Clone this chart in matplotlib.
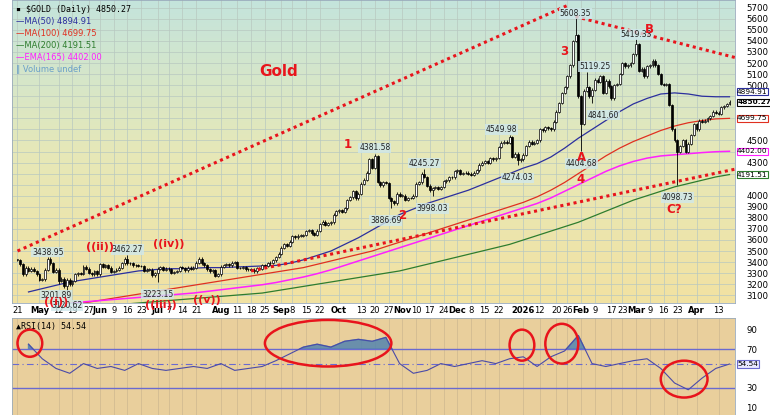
import numpy as np, pandas as pd
import matplotlib
matplotlib.use("Agg")
import matplotlib.pyplot as plt
from matplotlib.patches import Ellipse, Rectangle
from matplotlib.colors import LinearSegmentedColormap

closes = [3420,3380,3290,3350,3320, 3340,3320,3290,3240,3245, 3330,3430,3390,3310,3330,
 3230,3250,3180,3240,3200, 3230,3290,3300,3295,3360, 3340,3300,3290,3320,3290,
 3380,3355,3370,3350,3310, 3320,3330,3350,3390,3430, 3390,3390,3370,3370,3365,
 3365,3320,3330,3330,3280, 3300,3340,3355,3330,3340, 3335,3300,3310,3320,3355,
 3345,3325,3350,3340,3350, 3395,3430,3390,3370,3335, 3315,3325,3275,3290,3360,
 3375,3380,3370,3395,3400, 3345,3345,3355,3335,3335, 3330,3315,3345,3340,3375,
 3365,3390,3395,3415,3445, 3475,3530,3560,3545,3585, 3635,3625,3640,3640,3645,
 3680,3690,3660,3645,3685, 3745,3765,3735,3750,3760, 3830,3860,3870,3855,3885,
 3960,3985,4040,3975,4020, 4110,4145,4210,4330,4250, 4360,4125,4095,4125,4115,
 3980,3950,3930,4020,4000, 4000,3960,3980,3980,4000, 4110,4120,4200,4170,4090,
 4050,4070,4080,4060,4080, 4130,4140,4165,4165,4220, 4230,4200,4205,4210,4200,
 4190,4210,4230,4280,4300, 4310,4300,4340,4330,4340, 4440,4480,4490,4480,4530,
 4350,4380,4320,4330,4370, 4450,4490,4470,4480,4500, 4600,4590,4620,4610,4600,
 4670,4760,4840,4930,4980, 5080,5180,5400,5450,4900, 4650,4950,4980,4900,4960,
 5050,5030,5080,4930,5040, 4990,4880,5000,5010,5100, 5200,5170,5180,5200,5280,
 5370,5130,5150,5080,5170, 5180,5220,5180,5100,5010, 5000,5010,4820,4600,4500,
 4400,4450,4500,4400,4470, 4550,4650,4600,4680,4670, 4680,4700,4720,4760,4750,
 4740,4800,4810,4830,4850.27]

ma50 = [3130,3160,3190,3220,3240,3260,3280,3300,3320,3330,3340,3340,3345,3350,3350,3355,3360,3365,3370,3390,3420,3460,3500,3560,3620,3690,3760,3830,3880,3930,3970,4010,4050,4100,4150,4200,4250,4290,4350,4430,4520,4600,4680,4760,4830,4880,4920,4930,4920,4900,4895,4894.91]
ma100 = [2950,2970,2990,3010,3030,3050,3070,3090,3110,3130,3150,3170,3190,3210,3230,3250,3270,3290,3310,3330,3350,3380,3410,3440,3470,3500,3540,3580,3620,3660,3700,3740,3780,3820,3860,3900,3940,3990,4050,4120,4200,4280,4360,4430,4490,4540,4590,4630,4660,4680,4695,4699.75]
ma200 = [2900,2920,2940,2960,2980,3000,3010,3020,3030,3040,3050,3060,3070,3080,3090,3100,3110,3120,3140,3160,3180,3200,3220,3240,3260,3280,3300,3320,3350,3380,3410,3440,3470,3500,3530,3560,3600,3640,3680,3720,3760,3810,3860,3910,3960,4000,4040,4080,4110,4140,4170,4191.51]
ema165 = [2980,2995,3010,3025,3040,3050,3060,3070,3080,3090,3100,3110,3120,3135,3150,3165,3180,3195,3215,3240,3265,3295,3330,3370,3410,3450,3490,3530,3570,3610,3650,3690,3730,3770,3810,3850,3890,3930,3980,4040,4100,4160,4220,4270,4310,4340,4360,4370,4380,4390,4398,4402.00]
rsi = [75,60,50,45,55,50,52,48,55,50,48,50,52,50,55,48,50,52,58,65,72,75,72,78,80,78,82,55,45,48,55,52,55,58,55,60,62,52,62,68,84,55,52,55,58,60,50,35,28,40,50,54.54]

tick_dates = ["2025-04-21","2025-05-01","2025-05-12","2025-05-19","2025-05-27","2025-06-02","2025-06-09","2025-06-16","2025-06-23","2025-07-01","2025-07-07","2025-07-14","2025-07-21","2025-08-01","2025-08-11","2025-08-18","2025-08-25","2025-09-02","2025-09-08","2025-09-15","2025-09-22","2025-10-01","2025-10-13","2025-10-20","2025-10-27","2025-11-03","2025-11-10","2025-11-17","2025-11-24","2025-12-01","2025-12-08","2025-12-15","2025-12-22","2026-01-02","2026-01-12","2026-01-20","2026-01-26","2026-02-02","2026-02-09","2026-02-17","2026-02-23","2026-03-02","2026-03-09","2026-03-16","2026-03-23","2026-04-01","2026-04-13"]
tick_labels = ["21","May","12","19","27","Jun","9","16","23","Jul","7","14","21","Aug","11","18","25","Sep","8","15","22","Oct","13","20","27","Nov","10","17","24","Dec","8","15","22","2026","12","20","26","Feb","9","17","23","Mar","9","16","23","Apr","13"]

extremes = [("2025-05-06",3438.95,(0,4)),("2025-05-12",3201.89,(-2,-8)),("2025-05-15",3120.62,(0,-9)),
            ("2025-06-16",3462.27,(0,4)),("2025-07-01",3223.15,(0,-9)),("2025-10-20",4381.58,(0,4)),
            ("2025-10-28",3886.69,(-4,-9)),("2025-11-13",4245.27,(0,4)),("2025-11-18",3998.03,(0,-9)),
            ("2025-12-26",4549.98,(-6,4)),("2025-12-31",4274.03,(0,-9)),("2026-01-29",5608.35,(0,3)),
            ("2026-02-04",5119.25,(6,4)),("2026-02-02",4404.68,(0,-9)),("2026-02-06",4841.60,(8,-9)),
            ("2026-03-02",5419.33,(0,3)),("2026-03-23",4098.73,(0,-9))]
waves = [("2025-10-06",4460,"1"),("2025-11-03",3820,"2"),("2026-01-23",5300,"3"),("2026-02-02",4150,"4"),
         ("2026-02-02",4350,"A"),("2026-03-09",5500,"B"),("2026-03-20",3880,"C?"),
         ("2025-06-02",3540,"((ii))"),("2025-07-07",3560,"((iv))"),("2025-05-09",3035,"((i))"),
         ("2025-07-02",3010,"((iii))"),("2025-07-25",3060,"((v))")]

dates = pd.bdate_range("2025-04-21", periods=len(closes))
def di(s): return int(dates.searchsorted(pd.Timestamp(s)))
c = np.array(closes, float)
o = np.r_[c[0], c[:-1]]
hi = np.maximum(o, c) + 12; lo = np.minimum(o, c) - 12
for d, v, _ in extremes:
    i = min(di(d), len(c)-1)
    if v > c[i]: hi[i] = max(hi[i], v)
    else: lo[i] = min(lo[i], v)

W, H = 770, 415
fig = plt.figure(figsize=(W/100, H/100), dpi=100)
fig.patch.set_facecolor("white")
ax = fig.add_axes([12/W, 1-303/H, 723/W, 303/H])
ar = fig.add_axes([12/W, 0, 723/W, 97/H], sharex=ax)
n = len(c)
xl = (-2, n+1)
YL = (3030, 5770)
grad = np.linspace(0, 1, 256)[:, None]
cm = LinearSegmentedColormap.from_list("g", ["#f2e2a2", "#e6e8b8", "#c4e4dc"])
ax.imshow(grad, aspect="auto", cmap=cm, extent=(xl[0], xl[1], YL[0], YL[1]), origin="lower", zorder=0)
ar.set_facecolor("#e9cf9c")
ax.set_xlim(xl); ax.set_ylim(YL); ar.set_ylim(2, 102)

for t in range(3100, 5800, 100):
    ax.axhline(t, color="#b8c8c0", lw=0.5, zorder=1)
xt = [di(d) for d in tick_dates]
for x in xt:
    ax.axvline(x, color="#b8c8c0", lw=0.5, zorder=1)
    ar.axvline(x, color="#cdb890", lw=0.5, zorder=1)

ax.plot(np.arange(len(ma50))*5+4, ma50, color="#2b2f9e", lw=0.9, zorder=2)
ax.plot(np.arange(len(ma100))*5+4, ma100, color="#e03020", lw=0.9, zorder=2)
ax.plot(np.arange(len(ma200))*5+4, ma200, color="#2e7d2e", lw=0.9, zorder=2)
ax.plot(np.arange(len(ema165))*5+4, ema165, color="#ff20ff", lw=1.1, zorder=2)

for i in range(n):
    ax.vlines(i, lo[i], hi[i], color="black", lw=0.6, zorder=3)
    up = c[i] >= o[i]
    b0, b1 = min(o[i], c[i]), max(o[i], c[i])
    ax.add_patch(Rectangle((i-0.35, b0), 0.7, max(b1-b0, 4), facecolor="white" if up else "black",
                           edgecolor="black", lw=0.5, zorder=4))

dot = dict(color="#e8141c", lw=2.2, ls=(0, (1, 1.2)), zorder=5)
ax.plot([di("2025-04-21"), di("2026-01-26")], [3500, 5720], **dot)
ax.plot([di("2026-01-29"), n+1], [5620, 5250], **dot)
ax.plot([di("2025-08-18"), n+1], [3320, 4240], **dot)

for d, v, off in extremes:
    ax.annotate(f"{v:.2f}", (di(d), v), xytext=off, textcoords="offset points", ha="center", va="center",
                fontsize=5.5, color="#222", zorder=6,
                bbox=dict(boxstyle="square,pad=0.1", fc="#cfe8ec", ec="none", alpha=0.8))
for d, v, t in waves:
    ax.text(di(d), v, t, color="#e8141c", fontsize=8.5 if len(t) < 3 else 8, fontweight="bold",
            ha="center", va="center", zorder=6, clip_on=False)
ax.text(di("2025-09-01"), 5080, "Gold", color="#e8141c", fontsize=11, fontweight="bold", ha="center", zorder=6)

legend = [("\u25AA $GOLD (Daily) 4850.27", "black"), ("\u2014MA(50) 4894.91", "#2b2f9e"),
          ("\u2014MA(100) 4699.75", "#e03020"), ("\u2014MA(200) 4191.51", "#2e7d2e"),
          ("\u2014EMA(165) 4402.00", "#ff20ff"), ("\u2016 Volume undef", "#6aa0c8")]
for k, (t, col) in enumerate(legend):
    ax.text(0.005, 0.985-k*0.04, t, transform=ax.transAxes, fontsize=6, color=col, va="top",
            family="DejaVu Sans Mono" if k == 0 else "DejaVu Sans", zorder=7)

yt = list(range(3100, 5800, 100))
hidden = {4100, 4200, 4400, 4600, 4700, 4800, 4900}
ax.yaxis.tick_right(); ax.set_yticks(yt)
ax.set_yticklabels(["" if t in hidden else str(t) for t in yt])
ax.tick_params(axis="y", labelsize=6.2, length=0, pad=8)
ax.tick_params(axis="x", length=0, labelbottom=True, pad=2)
ax.set_xticks(xt)
ax.set_xticklabels(tick_labels, fontsize=6)
for lab, t in zip(ax.get_xticklabels(), tick_labels):
    if not t.isdigit() or t == "2026": lab.set_fontweight("bold")
tags = [(4894.91, "#2b2f9e", 4940, False), (4850.27, "black", 4845, True), (4699.75, "#e03020", 4700, False),
        (4402.00, "#ff20ff", 4402, False), (4191.51, "#2e7d2e", 4191, False)]
for v, col, y, b in tags:
    ax.text(1.003, y, f"{v:.2f}", transform=ax.get_yaxis_transform(), fontsize=5.3, va="center",
            fontweight="bold" if b else "normal", color="black",
            bbox=dict(boxstyle="square,pad=0.08", fc="white", ec=col, lw=0.8), zorder=8, clip_on=False)

xr = np.arange(len(rsi))*5+4
ar.plot(xr, rsi, color="#4a4aa8", lw=0.8, zorder=3)
r = np.array(rsi, float)
ar.fill_between(xr, 70, r, where=r > 70, interpolate=True, color="#4a80b0", alpha=0.8, zorder=2)
ar.axhline(70, color="#6a6ad0", lw=1, zorder=2); ar.axhline(30, color="#6a6ad0", lw=1, zorder=2)
ar.axhline(54.54, color="#6a6ad0", lw=0.8, ls=(0, (6, 3, 1, 3)), zorder=2)
for (x0, x1, y0, y1) in [("2025-04-21", "2025-05-02", 62, 90), ("2025-08-25", "2025-10-28", 52, 100),
                         ("2025-12-26", "2026-01-08", 58, 90), ("2026-01-14", "2026-01-30", 55, 96),
                         ("2026-03-13", "2026-04-07", 20, 58)]:
    a, b = di(x0), di(x1)
    ar.add_patch(Ellipse(((a+b)/2, (y0+y1)/2), b-a, y1-y0, fill=False, ec="#e8141c", lw=1.8, zorder=5))
ar.text(0.005, 0.96, "\u25B2RSI(14) 54.54", transform=ar.transAxes, fontsize=6, va="top",
        family="DejaVu Sans Mono")
ar.yaxis.tick_right(); ar.set_yticks([10, 30, 50, 70, 90])
ar.set_yticklabels(["10", "30", "", "70", "90"])
ar.tick_params(axis="y", labelsize=6.2, length=0, pad=8)
ar.tick_params(axis="x", labelbottom=False, length=0)
ar.text(1.003, 54.54, "54.54", transform=ar.get_yaxis_transform(), fontsize=5.3, va="center",
        bbox=dict(boxstyle="square,pad=0.08", fc="#e8e8ff", ec="#6a6ad0", lw=0.8), clip_on=False)
for a_ in (ax, ar):
    for s in a_.spines.values(): s.set_color("#9ab"); s.set_linewidth(0.6)
fig.savefig("out.png", dpi=100)
